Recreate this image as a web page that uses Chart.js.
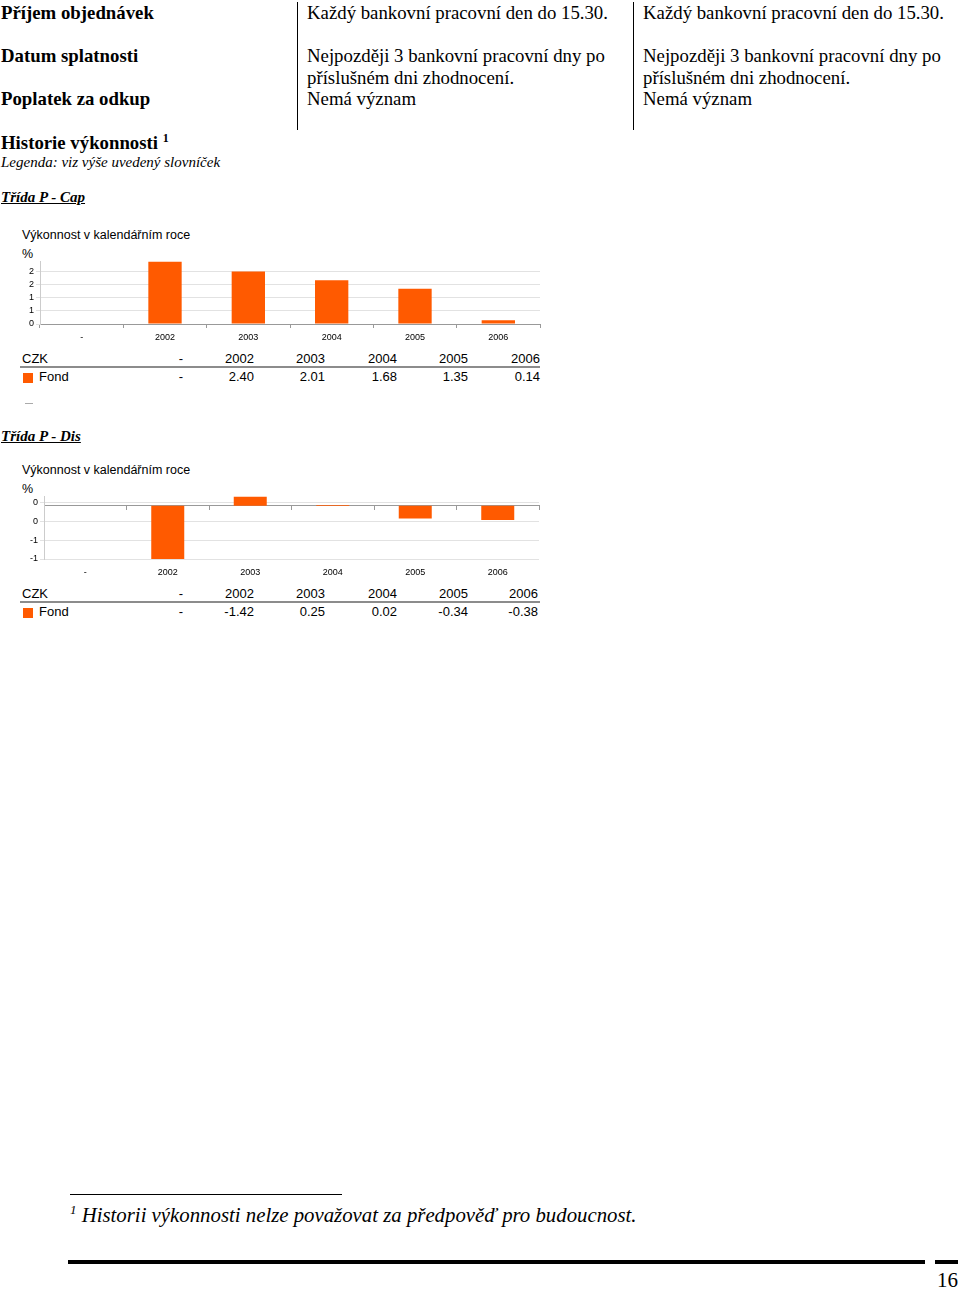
<!DOCTYPE html>
<html>
<head>
<meta charset="utf-8">
<script src="https://cdn.jsdelivr.net/npm/chart.js@4"></script>
<style>
    body { margin: 0; background: #fff; }
    #page { position: relative; width: 960px; height: 1291px; overflow: hidden; color: #000; }
    .serif { position: absolute; font-family: 'Liberation Serif', 'Times New Roman', serif; white-space: nowrap; }
    .sans { position: absolute; font-family: 'Liberation Sans', Arial, sans-serif; white-space: nowrap; }
    .lbl { font-size: 18.8px; font-weight: bold; line-height: 20px; }
    .val { font-size: 18.8px; line-height: 20px; }
    .sup { position: relative; }
    .vline { position: absolute; width: 1px; background: #000; }
    .box { position: absolute; }
    .cell { position: absolute; font-family: 'Liberation Sans', Arial, sans-serif; font-size: 13px; line-height: 15px; text-align: right; width: 60px; }
</style>
</head>
<body>
<div id="page">
    <div class="serif lbl" style="left:1px;top:3px">Příjem objednávek</div>
    <div class="serif lbl" style="left:1px;top:46px">Datum splatnosti</div>
    <div class="serif lbl" style="left:1px;top:89px">Poplatek za odkup</div>
    <div class="vline" style="left:297px;top:2px;height:128px"></div>
    <div class="vline" style="left:633px;top:2px;height:128px"></div>
    <div class="serif val" style="left:307px;top:3px">Každý bankovní pracovní den do 15.30.</div>
    <div class="serif val" style="left:307px;top:46px">Nejpozději 3 bankovní pracovní dny po</div>
    <div class="serif val" style="left:307px;top:68px">příslušném dni zhodnocení.</div>
    <div class="serif val" style="left:307px;top:89px">Nemá význam</div>
    <div class="serif val" style="left:643px;top:3px">Každý bankovní pracovní den do 15.30.</div>
    <div class="serif val" style="left:643px;top:46px">Nejpozději 3 bankovní pracovní dny po</div>
    <div class="serif val" style="left:643px;top:68px">příslušném dni zhodnocení.</div>
    <div class="serif val" style="left:643px;top:89px">Nemá význam</div>

    <div class="serif lbl" style="left:1px;top:133px">Historie výkonnosti <span class="sup" style="font-size:12px;top:-7px">1</span></div>
    <div class="serif" style="left:1px;top:154px;font-size:15px;font-style:italic;line-height:16px">Legenda: viz výše uvedený slovníček</div>

    <div class="serif" style="left:1px;top:189px;font-size:15px;font-style:italic;font-weight:bold;text-decoration:underline;line-height:16px">Třída P - Cap</div>
    <div class="sans" style="left:22px;top:227px;font-size:12.5px;line-height:16px">Výkonnost v kalendářním roce</div>
    <div class="sans" style="left:22px;top:246px;font-size:12.5px;line-height:16px">%</div>
    <div class="box" style="left:18px;top:254px;width:524px;height:90px"><canvas id="capChart"></canvas></div>
    <div id="capTable"></div>
    <div class="box" style="left:25px;top:403px;width:8px;height:1px;background:#aaa"></div>

    <div class="serif" style="left:1px;top:428px;font-size:15px;font-style:italic;font-weight:bold;text-decoration:underline;line-height:16px">Třída P - Dis</div>
    <div class="sans" style="left:22px;top:462px;font-size:12.5px;line-height:16px">Výkonnost v kalendářním roce</div>
    <div class="sans" style="left:22px;top:481px;font-size:12.5px;line-height:16px">%</div>
    <div class="box" style="left:18px;top:489px;width:524px;height:90px"><canvas id="disChart"></canvas></div>
    <div id="disTable"></div>

    <div class="box" style="left:70px;top:1194px;width:272px;height:1px;background:#000"></div>
    <div class="serif" style="left:70px;top:1204px;font-size:20.8px;font-style:italic;line-height:22px"><span class="sup" style="font-size:13px;top:-8px">1</span> Historii výkonnosti nelze považovat za předpověď pro budoucnost.</div>
    <div class="box" style="left:68px;top:1260px;width:857px;height:4px;background:#000"></div>
    <div class="box" style="left:935px;top:1260px;width:23px;height:4px;background:#000"></div>
    <div class="serif" style="left:930px;top:1269px;width:28px;text-align:right;font-size:21px;line-height:22px">16</div>
</div>
<script>
const years = ['-', '2002', '2003', '2004', '2005', '2006'];
const capValues = [null, 2.40, 2.01, 1.68, 1.35, 0.14];
const capText = ['-', '2.40', '2.01', '1.68', '1.35', '0.14'];
const capTicks = [0, 0.5, 1, 1.5, 2];
const disValues = [null, -1.42, 0.25, 0.02, -0.34, -0.38];
const disText = ['-', '-1.42', '0.25', '0.02', '-0.34', '-0.38'];
const disTicks = [-1.42, -0.92, -0.42, 0.08];

const ORANGE = '#ff5a00';
Chart.defaults.font.family = "'Liberation Sans', Arial, sans-serif";
Chart.defaults.color = '#000';

function buildTable(id, top, texts, rights) {
    const el = document.getElementById(id);
    let html = `<div class="cell" style="left:22px;top:${top - 7}px;text-align:left">CZK</div>`;
    html += `<div class="box" style="left:20px;top:${top + 8}px;width:520px;height:2px;background:#8c8c8c"></div>`;
    html += `<div class="box" style="left:23px;top:${top + 15}px;width:10px;height:10px;background:${ORANGE}"></div>`;
    html += `<div class="cell" style="left:39px;top:${top + 11}px;text-align:left">Fond</div>`;
    years.forEach((y, i) => {
        html += `<div class="cell" style="left:${rights[i] - 60}px;top:${top - 7}px">${y}</div>`;
        html += `<div class="cell" style="left:${rights[i] - 60}px;top:${top + 11}px">${texts[i]}</div>`;
    });
    el.innerHTML = html;
}
buildTable('capTable', 358, capText, [183, 254, 325, 397, 468, 540]);
buildTable('disTable', 593, disText, [183, 254, 325, 397, 468, 538]);

const tickFont = { size: 9 };

new Chart(document.getElementById('capChart'), {
    type: 'bar',
    data: { labels: years, datasets: [{ data: capValues, backgroundColor: ORANGE, barPercentage: 0.4, categoryPercentage: 1 }] },
    options: {
        responsive: true, maintainAspectRatio: false, animation: false,
        layout: { padding: { top: 4, right: 2, left: 0, bottom: 0 } },
        plugins: { legend: { display: false }, tooltip: { enabled: false } },
        scales: {
            x: {
                grid: { offset: true, drawOnChartArea: false, tickLength: 4, color: '#999' },
                border: { color: '#999' },
                ticks: { font: tickFont, padding: 4, maxRotation: 0 },
                afterFit: s => { s.height = 20; }
            },
            y: {
                min: 0, max: 2.4,
                afterBuildTicks: s => { s.ticks = capTicks.map(v => ({ value: v })); },
                grid: { color: '#e2e2e2', tickLength: 4 },
                border: { color: '#ccc' },
                ticks: { font: tickFont, padding: 2, callback: v => String(Math.round(v)) },
                afterFit: s => { s.width = 22; }
            }
        }
    }
});

new Chart(document.getElementById('disChart'), {
    type: 'bar',
    data: { labels: years, datasets: [{ data: disValues, backgroundColor: ORANGE, barPercentage: 0.4, categoryPercentage: 1 }] },
    options: {
        responsive: true, maintainAspectRatio: false, animation: false,
        layout: { padding: { top: 4, right: 3, left: 0, bottom: 0 } },
        plugins: { legend: { display: false }, tooltip: { enabled: false } },
        scales: {
            x: {
                grid: { display: false, drawTicks: false },
                border: { display: false },
                ticks: { font: tickFont, padding: 8, maxRotation: 0 },
                afterFit: s => { s.height = 20; }
            },
            x0: {
                axis: 'x', type: 'category', position: { y: 0 },
                grid: { offset: true, drawOnChartArea: false, tickLength: 4, color: '#999' },
                border: { color: '#999' },
                ticks: { display: false }
            },
            y: {
                min: -1.42, max: 0.25,
                afterBuildTicks: s => { s.ticks = disTicks.map(v => ({ value: v })); },
                grid: { color: '#e2e2e2', tickLength: 4 },
                border: { color: '#ccc' },
                ticks: { font: tickFont, padding: 2, callback: v => String(Math.round(v) || 0) },
                afterFit: s => { s.width = 26; }
            }
        }
    }
});
</script>
</body>
</html>
